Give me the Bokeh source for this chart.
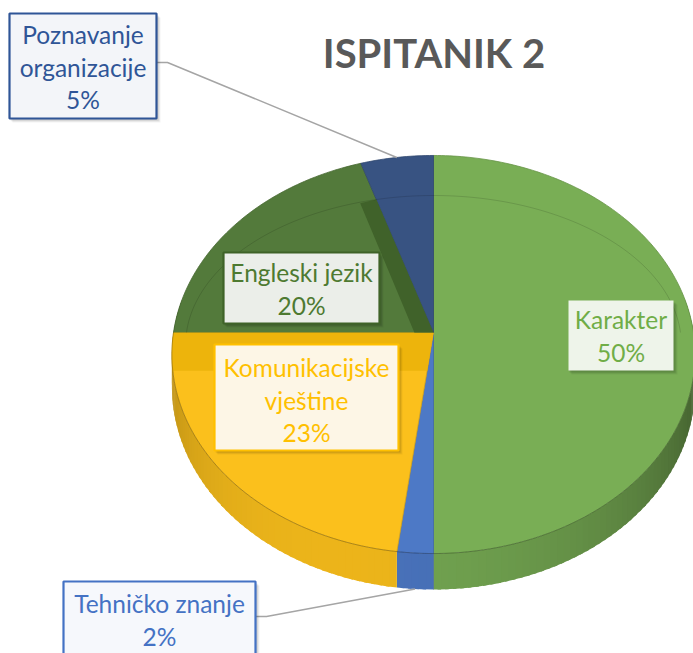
import numpy as np
from bokeh.plotting import figure
from bokeh.models import Range1d
from bokeh.core.properties import value
from bokeh.embed import file_html
from bokeh.resources import INLINE

# ---------------- data ----------------
title = "ISPITANIK 2"
categories = ["Karakter", "Tehničko znanje", "Komunikacijske vještine",
              "Engleski jezik", "Poznavanje organizacije"]
values = [50, 2, 23, 20, 5]
name_lines = [["Karakter"], ["Tehničko znanje"], ["Komunikacijske", "vještine"],
              ["Engleski jezik"], ["Poznavanje", "organizacije"]]

# ---------------- styles ----------------
top_colors = ["#79AE55", "#4D79C6", "#FBC01C", "#537A3B", "#385382"]
text_colors = ["#70AD47", "#4472C4", "#FFC000", "#4E7A31", "#2F5597"]
box_fills = ["#EEF4EA", "#F6F8FC", "#FDF6E6", "#EBEEE9", "#F3F5F9"]
box_borders = [None, "#4472C4", "#FFC000", "#3F6328", "#2F5597"]
# label boxes: (left, right, top, bottom) in picture pixels; first text line centre
box_geom = [(568, 673, 300, 370), (63, 255, 581, 668), (214, 398, 344, 450),
            (223, 379, 252, 323), (9, 156, 13, 118)]
first_line = [319, 603, 367, 272, 34]
leader_y = [None, 616, None, None, 62]
LINE_H = 32.5
FONT = "Lato"

# projection of the tilted pie (picture pixel space)
CX, CY, SX, SY, K, DEPTH = 433.0, 332.0, 260.0, 196.6, 0.1106, 32.0
RING_U, RING_V = 0.95, 0.755
W, H = 693, 653


def proj(u, v, dz=0.0):
    u = np.asarray(u, float)
    v = np.asarray(v, float)
    w = 1.0 - K * v
    return CX + SX * u / w, CY + SY * v / w + dz / w


def rim(theta_deg, r=1.0):
    t = np.radians(theta_deg)
    return r * np.sin(t), -r * np.cos(t)


def shade(hexc, f):
    hexc = hexc.lstrip("#")
    rgb = [int(hexc[i:i + 2], 16) for i in (0, 2, 4)]
    rgb = [max(0, min(255, int(round(c * f)))) for c in rgb]
    return "#%02X%02X%02X" % tuple(rgb)


total = float(sum(values))
fracs = [v / total for v in values]
ends = np.cumsum(fracs) * 360.0
starts = np.concatenate([[0.0], ends[:-1]])

p = figure(width=W, height=H, output_backend="svg", toolbar_location=None,
           x_range=Range1d(0, W), y_range=Range1d(H, 0), min_border=0)
p.axis.visible = False
p.grid.visible = False
p.outline_line_color = None
p.background_fill_color = "white"
p.border_fill_color = "white"

# ---------------- side walls ----------------
L = np.array([-0.35, 1.0])
L = L / np.linalg.norm(L)
sx_list, sy_list, sc_list = [], [], []
for i in range(len(values)):
    a0, a1 = max(starts[i], 80.0), min(ends[i], 280.0)
    if a1 <= a0:
        continue
    n = max(2, int(np.ceil((a1 - a0) / 1.5)))
    angs = np.linspace(a0, a1, n + 1)
    for j in range(n):
        ta, tb = angs[j], min(angs[j + 1] + 0.7, a1)
        ua, va = rim(ta)
        ub, vb = rim(tb)
        xa, ya = proj(ua, va)
        xb, yb = proj(ub, vb)
        xa2, ya2 = proj(ua, va, DEPTH)
        xb2, yb2 = proj(ub, vb, DEPTH)
        tm = np.radians((angs[j] + angs[j + 1]) / 2)
        nrm = np.array([np.sin(tm), -np.cos(tm)])
        f = 0.60 + 0.34 * max(0.0, float(nrm @ L))
        sx_list.append([float(xa), float(xb), float(xb2), float(xa2)])
        sy_list.append([float(ya), float(yb), float(yb2), float(ya2)])
        sc_list.append(shade(top_colors[i], f))
p.patches(sx_list, sy_list, fill_color=sc_list, line_color=None)

# boundary line between green and blue on the wall
bu, bv = rim(ends[0])
bx1, by1 = proj(bu, bv)
bx2, by2 = proj(bu, bv, DEPTH)
p.line([float(bx1), float(bx2)], [float(by1), float(by2)], line_color="#3A5F8F",
       line_width=1, line_alpha=0.6)

# ---------------- top faces ----------------
for i in range(len(values)):
    angs = np.linspace(starts[i], ends[i], max(3, int((ends[i] - starts[i]) / 1.0) + 2))
    u, v = rim(angs)
    xs, ys = proj(np.concatenate([[0.0], u]), np.concatenate([[0.0], v]))
    p.patch(list(xs), list(ys), fill_color=top_colors[i], line_color=shade(top_colors[i], 0.85),
            line_width=0.8)


def ring_t(direction):
    # distance along a direction (pie coords) to the bevel ring ellipse
    return 1.0 / np.sqrt((direction[0] / RING_U) ** 2 + (direction[1] / RING_V) ** 2)


# bevel strips along the closing edge of some slices
strip_w = {2: (0.19, "#EDB40C", False), 3: (0.07, "#40622A", True)}
for i, (b, col, to_ring) in strip_w.items():
    a1 = np.radians(ends[i])
    alpha = np.radians(ends[i] - starts[i])
    d = np.array([np.sin(a1), -np.cos(a1)])
    n_in = -np.array([np.cos(a1), np.sin(a1)])
    p3 = b * n_in + (b / np.tan(alpha)) * d
    if to_ring:
        t = ring_t(d)
        q1 = t * d
        q2 = b * n_in + t * d
        pu = np.array([0.0, q1[0], q2[0], p3[0]])
        pv = np.array([0.0, q1[1], q2[1], p3[1]])
    else:
        a_in = ends[i] - np.degrees(np.arcsin(b))
        arc = np.linspace(ends[i], a_in, 12)
        au, av = rim(arc)
        pu = np.concatenate([[0.0], au, [p3[0]]])
        pv = np.concatenate([[0.0], av, [p3[1]]])
    xs, ys = proj(pu, pv)
    p.patch(list(xs), list(ys), fill_color=col, line_color=None)

# faint bevel ring on the top face
rt = np.radians(np.linspace(-90, 90, 120))
rx, ry = proj(RING_U * np.sin(rt), -RING_V * np.cos(rt))
p.line(list(rx), list(ry), line_color="black", line_alpha=0.13, line_width=1)

# top / wall boundary at the front
ft = np.linspace(90, 270, 120)
fu, fv = rim(ft)
fx, fy = proj(fu, fv)
p.line(list(fx), list(fy), line_color="black", line_alpha=0.22, line_width=1)

# ---------------- leader lines ----------------
for i in range(len(values)):
    if leader_y[i] is None:
        continue
    mid = (starts[i] + ends[i]) / 2
    mu, mv = rim(mid)
    dz = DEPTH if 90 < mid < 270 else 0.0
    ex, ey = proj(mu, mv, dz)
    lft, rgt, top, bot = box_geom[i]
    ly = leader_y[i]
    p.line([rgt, rgt + 11, float(ex)], [ly, ly, float(ey)], line_color="#A5A5A5", line_width=1.5)

# ---------------- label boxes ----------------
for i in range(len(values)):
    lft, rgt, top, bot = box_geom[i]
    for off, a in [(4, 0.05), (3, 0.07), (2, 0.09)]:
        p.quad(left=lft + off - 1, right=rgt + off, top=top + off, bottom=bot + off,
               fill_color="black", fill_alpha=a, line_color=None)
    p.quad(left=lft, right=rgt, top=top, bottom=bot, fill_color=box_fills[i],
           line_color=box_borders[i], line_width=2.2 if box_borders[i] else 0)
    lines = name_lines[i] + [f"{round(values[i] / total * 100)}%"]
    n = len(lines)
    cx = (lft + rgt) / 2
    p.text(x=[cx] * n, y=[first_line[i] + k * LINE_H for k in range(n)], text=lines,
           text_font=value(FONT), text_font_size="24.5px", text_align="center",
           text_baseline="middle", text_color=text_colors[i])

# ---------------- title ----------------
p.text(x=[433.5], y=[52], text=[title], text_font=value(FONT), text_font_size="40px",
       text_font_style="bold", text_align="center", text_baseline="middle",
       text_color="#595959")

open("out.html", "w").write(file_html(p, INLINE))
